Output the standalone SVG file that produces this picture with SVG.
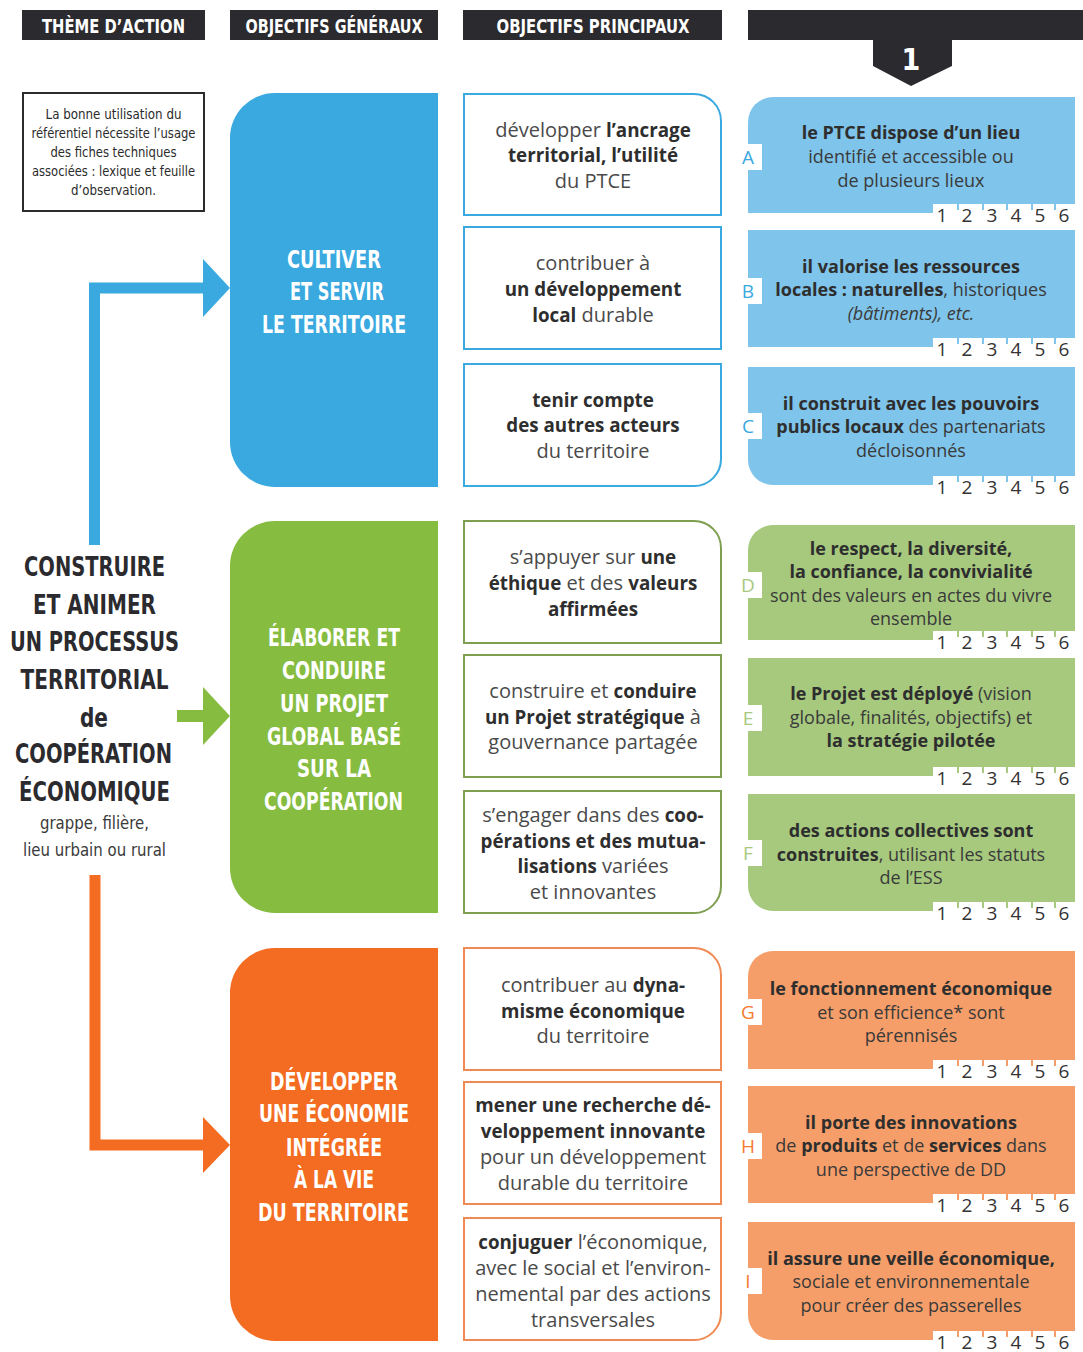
<svg xmlns="http://www.w3.org/2000/svg" width="1083" height="1352" viewBox="0 0 1083 1352">
<style>
.hdr{fill:#2b2a2e}
.hdrt{font-family:"DejaVu Sans Condensed","Liberation Sans",sans-serif;font-weight:bold;font-size:19px;fill:#fff;text-anchor:middle}
.note{font-family:"DejaVu Sans Condensed","Liberation Sans",sans-serif;font-size:14px;fill:#2b2b2b;text-anchor:middle}
.big{font-family:"DejaVu Sans Condensed","Liberation Sans",sans-serif;font-weight:bold;font-size:24px;fill:#fff;text-anchor:middle}
.theme{font-family:"DejaVu Sans Condensed","Liberation Sans",sans-serif;font-weight:bold;font-size:27px;fill:#2b2a2e;text-anchor:middle}
.themes{font-family:"DejaVu Sans Condensed","Liberation Sans",sans-serif;font-size:18px;fill:#3a3a3a;text-anchor:middle}
.mid{font-family:"Open Sans","Noto Sans",sans-serif;font-size:20px;fill:#4a4a4a;text-anchor:middle}
.mid .b,.mid.b{font-size:18.8px}
.rt{font-family:"Open Sans","Noto Sans",sans-serif;font-size:18px;fill:#3a3a3a;text-anchor:middle}
.b{font-weight:bold;fill:#2e2e2e}
.i{font-style:italic}
.num{font-family:"Open Sans","Noto Sans",sans-serif;font-size:19px;fill:#333;text-anchor:middle}
.let{font-family:"Open Sans","Noto Sans",sans-serif;font-size:19px;text-anchor:middle}
.mb{fill:#fff;stroke-width:2}
</style>

<!-- headers -->
<g id="headers">
<rect class="hdr" x="22" y="10" width="183" height="30"/>
<text class="hdrt" x="113.5" y="33" textLength="143" lengthAdjust="spacingAndGlyphs">THÈME D’ACTION</text>
<rect class="hdr" x="230" y="10" width="208" height="30"/>
<text class="hdrt" x="334" y="33" textLength="177" lengthAdjust="spacingAndGlyphs">OBJECTIFS GÉNÉRAUX</text>
<rect class="hdr" x="463" y="10" width="259" height="30"/>
<text class="hdrt" x="593" y="33" textLength="193" lengthAdjust="spacingAndGlyphs">OBJECTIFS PRINCIPAUX</text>
<path class="hdr" d="M748,10 H1083 V40 H952 V66 L911,86 L873,66 V40 H748 Z"/>
<text x="911" y="70" font-family="DejaVu Sans Condensed,Liberation Sans,sans-serif" font-weight="bold" font-size="30" fill="#fff" text-anchor="middle">1</text>
</g>

<!-- note -->
<g id="note">
<rect x="23" y="93" width="181" height="118" fill="#fff" stroke="#2b2b2b" stroke-width="2"/>
<text class="note" x="113.5" y="119" textLength="136" lengthAdjust="spacingAndGlyphs">La bonne utilisation du</text>
<text class="note" x="113.5" y="138" textLength="164" lengthAdjust="spacingAndGlyphs">référentiel nécessite l’usage</text>
<text class="note" x="113.5" y="157" textLength="126" lengthAdjust="spacingAndGlyphs">des fiches techniques</text>
<text class="note" x="113.5" y="176" textLength="163" lengthAdjust="spacingAndGlyphs">associées : lexique et feuille</text>
<text class="note" x="113.5" y="195" textLength="85" lengthAdjust="spacingAndGlyphs">d’observation.</text>
</g>

<!-- connectors -->
<g id="connectors">
<path d="M94.5,545 V288 H206" fill="none" stroke="#39a9e0" stroke-width="11"/>
<polygon points="203,259 230,288 203,317" fill="#39a9e0"/>
<path d="M177,716 H206" fill="none" stroke="#86bc40" stroke-width="12"/>
<polygon points="203,687 230,716 203,745" fill="#86bc40"/>
<path d="M95,875 V1145 H206" fill="none" stroke="#f36c21" stroke-width="11"/>
<polygon points="203,1117 230,1145 203,1173" fill="#f36c21"/>
</g>

<!-- theme -->
<g id="theme">
<text class="theme" x="94.5" y="576" textLength="141" lengthAdjust="spacingAndGlyphs">CONSTRUIRE</text>
<text class="theme" x="94.5" y="614" textLength="123" lengthAdjust="spacingAndGlyphs">ET ANIMER</text>
<text class="theme" x="94.5" y="651" textLength="169" lengthAdjust="spacingAndGlyphs">UN PROCESSUS</text>
<text class="theme" x="94.5" y="689" textLength="148" lengthAdjust="spacingAndGlyphs">TERRITORIAL</text>
<text class="theme" x="94" y="727" textLength="28" lengthAdjust="spacingAndGlyphs">de</text>
<text class="theme" x="93.5" y="763" textLength="157" lengthAdjust="spacingAndGlyphs">COOPÉRATION</text>
<text class="theme" x="94.5" y="801" textLength="151" lengthAdjust="spacingAndGlyphs">ÉCONOMIQUE</text>
<text class="themes" x="94.5" y="829" textLength="109" lengthAdjust="spacingAndGlyphs">grappe, filière,</text>
<text class="themes" x="94.5" y="856" textLength="143" lengthAdjust="spacingAndGlyphs">lieu urbain ou rural</text>
</g>

<!-- general objectives -->
<g id="gen-cultiver">
<path d="M275,93 H438 V487 H275 A45,45 0 0 1 230,442 V138 A45,45 0 0 1 275,93 Z" fill="#39a9e0"/>
<text class="big" x="334" y="268" textLength="94" lengthAdjust="spacingAndGlyphs">CULTIVER</text>
<text class="big" x="337" y="300" textLength="94" lengthAdjust="spacingAndGlyphs">ET SERVIR</text>
<text class="big" x="334" y="333" textLength="144" lengthAdjust="spacingAndGlyphs">LE TERRITOIRE</text>
</g>
<g id="gen-elaborer">
<path d="M275,521 H438 V913 H275 A45,45 0 0 1 230,868 V566 A45,45 0 0 1 275,521 Z" fill="#86bc40"/>
<text class="big" x="334" y="646" textLength="132" lengthAdjust="spacingAndGlyphs">ÉLABORER ET</text>
<text class="big" x="334" y="679" textLength="104" lengthAdjust="spacingAndGlyphs">CONDUIRE</text>
<text class="big" x="334" y="712" textLength="108" lengthAdjust="spacingAndGlyphs">UN PROJET</text>
<text class="big" x="334" y="745" textLength="134" lengthAdjust="spacingAndGlyphs">GLOBAL BASÉ</text>
<text class="big" x="334" y="777" textLength="74" lengthAdjust="spacingAndGlyphs">SUR LA</text>
<text class="big" x="333.5" y="810" textLength="139" lengthAdjust="spacingAndGlyphs">COOPÉRATION</text>
</g>
<g id="gen-developper">
<path d="M275,948 H438 V1341 H275 A45,45 0 0 1 230,1296 V993 A45,45 0 0 1 275,948 Z" fill="#f36c21"/>
<text class="big" x="334" y="1090" textLength="128" lengthAdjust="spacingAndGlyphs">DÉVELOPPER</text>
<text class="big" x="334" y="1122" textLength="150" lengthAdjust="spacingAndGlyphs">UNE ÉCONOMIE</text>
<text class="big" x="334" y="1156" textLength="96" lengthAdjust="spacingAndGlyphs">INTÉGRÉE</text>
<text class="big" x="334" y="1188" textLength="80" lengthAdjust="spacingAndGlyphs">À LA VIE</text>
<text class="big" x="333.5" y="1221" textLength="151" lengthAdjust="spacingAndGlyphs">DU TERRITOIRE</text>
</g>

<!-- main objectives -->
<g id="obj-1">
<path class="mb" stroke="#3aa9df" d="M464,94 H694 A27,27 0 0 1 721,121 V215 H464 Z"/>
<text class="mid" x="593" y="137">développer <tspan class="b">l’ancrage</tspan></text>
<text class="mid b" x="593" y="162">territorial, l’utilité</text>
<text class="mid" x="593" y="188">du PTCE</text>
</g>
<g id="obj-2">
<rect class="mb" stroke="#3aa9df" x="464" y="227" width="257" height="122"/>
<text class="mid" x="593" y="270">contribuer à</text>
<text class="mid b" x="593" y="296">un développement</text>
<text class="mid" x="593" y="322"><tspan class="b">local</tspan> durable</text>
</g>
<g id="obj-3">
<path class="mb" stroke="#3aa9df" d="M464,364 H721 V459 A27,27 0 0 1 694,486 H464 Z"/>
<text class="mid b" x="593" y="407">tenir compte</text>
<text class="mid b" x="593" y="432">des autres acteurs</text>
<text class="mid" x="593" y="458">du territoire</text>
</g>
<g id="obj-4">
<path class="mb" stroke="#7e9e50" d="M464,521 H694 A27,27 0 0 1 721,548 V643 H464 Z"/>
<text class="mid" x="593" y="564">s’appuyer sur <tspan class="b">une</tspan></text>
<text class="mid" x="593" y="590"><tspan class="b">éthique</tspan> et des <tspan class="b">valeurs</tspan></text>
<text class="mid b" x="593" y="616">affirmées</text>
</g>
<g id="obj-5">
<rect class="mb" stroke="#7e9e50" x="464" y="655" width="257" height="122"/>
<text class="mid" x="593" y="698">construire et <tspan class="b">conduire</tspan></text>
<text class="mid" x="593" y="724"><tspan class="b">un Projet stratégique</tspan> à</text>
<text class="mid" x="593" y="749">gouvernance partagée</text>
</g>
<g id="obj-6">
<path class="mb" stroke="#7e9e50" d="M464,791 H721 V886 A27,27 0 0 1 694,913 H464 Z"/>
<text class="mid" x="593" y="822">s’engager dans des <tspan class="b">coo-</tspan></text>
<text class="mid b" x="593" y="848">pérations et des mutua-</text>
<text class="mid" x="593" y="873"><tspan class="b">lisations</tspan> variées</text>
<text class="mid" x="593" y="899">et innovantes</text>
</g>
<g id="obj-7">
<path class="mb" stroke="#f08a55" d="M464,948 H694 A27,27 0 0 1 721,975 V1070 H464 Z"/>
<text class="mid" x="593" y="992">contribuer au <tspan class="b">dyna-</tspan></text>
<text class="mid b" x="593" y="1018">misme économique</text>
<text class="mid" x="593" y="1043">du territoire</text>
</g>
<g id="obj-8">
<rect class="mb" stroke="#f08a55" x="464" y="1082" width="257" height="122"/>
<text class="mid b" x="593" y="1112">mener une recherche dé-</text>
<text class="mid b" x="593" y="1138">veloppement innovante</text>
<text class="mid" x="593" y="1164">pour un développement</text>
<text class="mid" x="593" y="1190">durable du territoire</text>
</g>
<g id="obj-9">
<path class="mb" stroke="#f08a55" d="M464,1218 H721 V1313 A27,27 0 0 1 694,1340 H464 Z"/>
<text class="mid" x="593" y="1249"><tspan class="b">conjuguer</tspan> l’économique,</text>
<text class="mid" x="593" y="1275">avec le social et l’environ-</text>
<text class="mid" x="593" y="1301">nemental par des actions</text>
<text class="mid" x="593" y="1327">transversales</text>
</g>

<!-- criteria -->
<defs>
<g id="nums">
<rect x="933" y="-9" width="142" height="23" fill="#fff"/>
<text class="num" x="942" y="9">1</text>
<text class="num" x="967" y="9">2</text>
<text class="num" x="992" y="9">3</text>
<text class="num" x="1016" y="9">4</text>
<text class="num" x="1040" y="9">5</text>
<text class="num" x="1064" y="9">6</text>
</g>
</defs>

<g id="crit-A">
<path fill="#7fc4ea" d="M773,97 H1075 V213 H748 V122 A25,25 0 0 1 773,97 Z"/>
<use href="#nums" y="213"/>
<g fill="#7fc4ea"><rect x="957" y="204" width="2" height="6"/><rect x="982" y="204" width="2" height="6"/><rect x="1006" y="204" width="2" height="6"/><rect x="1031" y="204" width="2" height="6"/><rect x="1054" y="204" width="2" height="6"/></g>
<rect x="748" y="144" width="14" height="26" fill="#fff"/>
<text class="let" x="748" y="164" fill="#3aa9df">A</text>
<text class="rt b" x="911" y="139">le PTCE dispose d’un lieu</text>
<text class="rt" x="911" y="163">identifié et accessible ou</text>
<text class="rt" x="911" y="187">de plusieurs lieux</text>
</g>
<g id="crit-B">
<rect fill="#7fc4ea" x="748" y="230" width="327" height="117"/>
<use href="#nums" y="347"/>
<g fill="#7fc4ea"><rect x="957" y="338" width="2" height="6"/><rect x="982" y="338" width="2" height="6"/><rect x="1006" y="338" width="2" height="6"/><rect x="1031" y="338" width="2" height="6"/><rect x="1054" y="338" width="2" height="6"/></g>
<rect x="748" y="278" width="14" height="26" fill="#fff"/>
<text class="let" x="748" y="298" fill="#3aa9df">B</text>
<text class="rt b" x="911" y="273">il valorise les ressources</text>
<text class="rt" x="911" y="296"><tspan class="b">locales : naturelles</tspan>, historiques</text>
<text class="rt i" x="911" y="320">(bâtiments), etc.</text>
</g>
<g id="crit-C">
<path fill="#7fc4ea" d="M748,367 H1075 V485 H773 A25,25 0 0 1 748,460 Z"/>
<use href="#nums" y="485"/>
<g fill="#7fc4ea"><rect x="957" y="476" width="2" height="6"/><rect x="982" y="476" width="2" height="6"/><rect x="1006" y="476" width="2" height="6"/><rect x="1031" y="476" width="2" height="6"/><rect x="1054" y="476" width="2" height="6"/></g>
<rect x="748" y="413" width="14" height="26" fill="#fff"/>
<text class="let" x="748" y="433" fill="#3aa9df">C</text>
<text class="rt b" x="911" y="410">il construit avec les pouvoirs</text>
<text class="rt" x="911" y="433"><tspan class="b">publics locaux</tspan> des partenariats</text>
<text class="rt" x="911" y="457">décloisonnés</text>
</g>
<g id="crit-D">
<path fill="#a6c97e" d="M773,525 H1075 V640 H748 V550 A25,25 0 0 1 773,525 Z"/>
<use href="#nums" y="640"/>
<g fill="#a6c97e"><rect x="957" y="631" width="2" height="6"/><rect x="982" y="631" width="2" height="6"/><rect x="1006" y="631" width="2" height="6"/><rect x="1031" y="631" width="2" height="6"/><rect x="1054" y="631" width="2" height="6"/></g>
<rect x="748" y="572" width="14" height="26" fill="#fff"/>
<text class="let" x="748" y="592" fill="#a6c97e">D</text>
<text class="rt b" x="911" y="555">le respect, la diversité,</text>
<text class="rt b" x="911" y="578">la confiance, la convivialité</text>
<text class="rt" x="911" y="602">sont des valeurs en actes du vivre</text>
<text class="rt" x="911" y="625">ensemble</text>
</g>
<g id="crit-E">
<rect fill="#a6c97e" x="748" y="658" width="327" height="118"/>
<use href="#nums" y="776"/>
<g fill="#a6c97e"><rect x="957" y="767" width="2" height="6"/><rect x="982" y="767" width="2" height="6"/><rect x="1006" y="767" width="2" height="6"/><rect x="1031" y="767" width="2" height="6"/><rect x="1054" y="767" width="2" height="6"/></g>
<rect x="748" y="705" width="14" height="26" fill="#fff"/>
<text class="let" x="748" y="725" fill="#a6c97e">E</text>
<text class="rt" x="911" y="700"><tspan class="b">le Projet est déployé</tspan> (vision</text>
<text class="rt" x="911" y="724">globale, finalités, objectifs) et</text>
<text class="rt b" x="911" y="747">la stratégie pilotée</text>
</g>
<g id="crit-F">
<path fill="#a6c97e" d="M748,794 H1075 V911 H773 A25,25 0 0 1 748,886 Z"/>
<use href="#nums" y="911"/>
<g fill="#a6c97e"><rect x="957" y="902" width="2" height="6"/><rect x="982" y="902" width="2" height="6"/><rect x="1006" y="902" width="2" height="6"/><rect x="1031" y="902" width="2" height="6"/><rect x="1054" y="902" width="2" height="6"/></g>
<rect x="748" y="840" width="14" height="26" fill="#fff"/>
<text class="let" x="748" y="860" fill="#a6c97e">F</text>
<text class="rt b" x="911" y="837">des actions collectives sont</text>
<text class="rt" x="911" y="861"><tspan class="b">construites</tspan>, utilisant les statuts</text>
<text class="rt" x="911" y="884">de l’ESS</text>
</g>
<g id="crit-G">
<path fill="#f59e69" d="M773,951 H1075 V1069 H748 V976 A25,25 0 0 1 773,951 Z"/>
<use href="#nums" y="1069"/>
<g fill="#f59e69"><rect x="957" y="1060" width="2" height="6"/><rect x="982" y="1060" width="2" height="6"/><rect x="1006" y="1060" width="2" height="6"/><rect x="1031" y="1060" width="2" height="6"/><rect x="1054" y="1060" width="2" height="6"/></g>
<rect x="748" y="999" width="14" height="26" fill="#fff"/>
<text class="let" x="748" y="1019" fill="#f37a32">G</text>
<text class="rt b" x="911" y="995">le fonctionnement économique</text>
<text class="rt" x="911" y="1019">et son efficience* sont</text>
<text class="rt" x="911" y="1042">pérennisés</text>
</g>
<g id="crit-H">
<rect fill="#f59e69" x="748" y="1086" width="327" height="117"/>
<use href="#nums" y="1203"/>
<g fill="#f59e69"><rect x="957" y="1194" width="2" height="6"/><rect x="982" y="1194" width="2" height="6"/><rect x="1006" y="1194" width="2" height="6"/><rect x="1031" y="1194" width="2" height="6"/><rect x="1054" y="1194" width="2" height="6"/></g>
<rect x="748" y="1133" width="14" height="26" fill="#fff"/>
<text class="let" x="748" y="1153" fill="#f37a32">H</text>
<text class="rt b" x="911" y="1129">il porte des innovations</text>
<text class="rt" x="911" y="1152">de <tspan class="b">produits</tspan> et de <tspan class="b">services</tspan> dans</text>
<text class="rt" x="911" y="1176">une perspective de DD</text>
</g>
<g id="crit-I">
<path fill="#f59e69" d="M748,1222 H1075 V1340 H773 A25,25 0 0 1 748,1315 Z"/>
<use href="#nums" y="1340"/>
<g fill="#f59e69"><rect x="957" y="1331" width="2" height="6"/><rect x="982" y="1331" width="2" height="6"/><rect x="1006" y="1331" width="2" height="6"/><rect x="1031" y="1331" width="2" height="6"/><rect x="1054" y="1331" width="2" height="6"/></g>
<rect x="748" y="1268" width="14" height="26" fill="#fff"/>
<text class="let" x="748" y="1288" fill="#f37a32">I</text>
<text class="rt b" x="911" y="1265">il assure une veille économique,</text>
<text class="rt" x="911" y="1288">sociale et environnementale</text>
<text class="rt" x="911" y="1312">pour créer des passerelles</text>
</g>
</svg>
